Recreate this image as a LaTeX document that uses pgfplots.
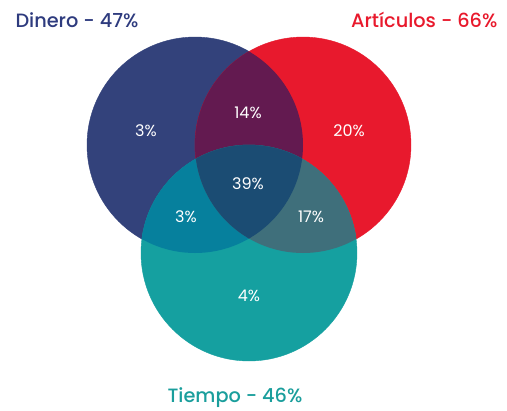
\documentclass[border=0pt]{standalone}
\usepackage{pgfplots}
\pgfplotsset{compat=1.18}
\usepackage{pgfplotstable}
\usepackage{fontspec}
\setmainfont{Poppins}
\newfontfamily\medfont{Poppins Medium}
\definecolor{cD}{HTML}{33427B}
\definecolor{cA}{HTML}{E8192D}
\definecolor{cT}{HTML}{15A0A0}
\definecolor{cDA}{HTML}{631A50}
\definecolor{cDT}{HTML}{06809D}
\definecolor{cAT}{HTML}{3F6F7B}
\definecolor{cDAT}{HTML}{1B4C73}
\definecolor{tD}{HTML}{2E3B7E}
\definecolor{tA}{HTML}{E8192C}
\definecolor{tT}{HTML}{1A9E9C}
\pgfplotstableread{
x y
195 145
}\dinero
\pgfplotstableread{
x y
303 145
}\articulos
\pgfplotstableread{
x y
249 253
}\tiempo
\pgfplotstableread{
x y label
146 131 3
248 113 14
349 131 20
248 184 39
186 217 3
311 217 17
249 296 4
}\regiones
\pgfplotsset{venn/.style={x=1pt,y=1pt,y dir=reverse,xmin=0,xmax=507,ymin=0,ymax=408,
  hide axis, clip=false, scale only axis, anchor=south west, at={(0,0)}},
  circ/.style={only marks, mark=*, mark size=108pt, color=#1}}
\begin{document}
\begin{tikzpicture}
\begin{axis}[venn]
\path (rel axis cs:0,0) rectangle (rel axis cs:1,1);
\addplot[circ=cD] table {\dinero};
\addplot[circ=cA] table {\articulos};
\addplot[circ=cT] table {\tiempo};
\coordinate (D) at (axis cs:195,145);
\coordinate (A) at (axis cs:303,145);
\end{axis}
\begin{scope}
\clip (D) circle[radius=108pt];
\begin{axis}[venn]
\addplot[circ=cDA] table {\articulos};
\addplot[circ=cDT] table {\tiempo};
\end{axis}
\end{scope}
\begin{scope}
\clip (A) circle[radius=108pt];
\begin{axis}[venn]
\addplot[circ=cAT] table {\tiempo};
\end{axis}
\end{scope}
\begin{scope}
\clip (D) circle[radius=108pt];
\clip (A) circle[radius=108pt];
\begin{axis}[venn]
\addplot[circ=cDAT] table {\tiempo};
\end{axis}
\end{scope}
\begin{axis}[venn]
\addplot[only marks, mark=none, point meta=explicit symbolic,
  nodes near coords={\pgfplotspointmeta\%},
  nodes near coords style={anchor=center, text=white, font=\fontsize{16}{18}\selectfont}]
  table[meta=label] {\regiones};
\node[anchor=base west, text=tD, font=\medfont\fontsize{19.3}{22}\selectfont] at (axis cs:12,27) {Dinero - 47\%};
\node[anchor=base east, text=tA, font=\medfont\fontsize{19.3}{22}\selectfont] at (axis cs:501,27) {Artículos - 66\%};
\node[anchor=base, text=tT, font=\medfont\fontsize{19.3}{22}\selectfont] at (axis cs:235,402) {Tiempo - 46\%};
\end{axis}
\end{tikzpicture}
\end{document}
